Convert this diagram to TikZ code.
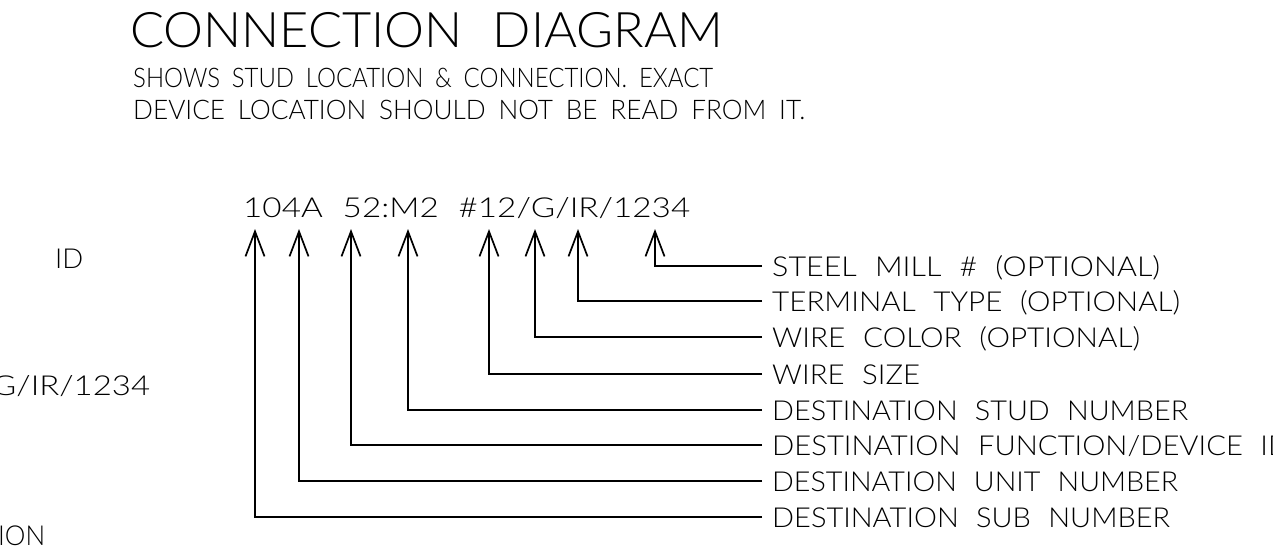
\documentclass[tikz,border=0pt]{standalone}
\usepackage{fontspec}
\setmainfont{Lato Light}[WordSpace=2.2]
\newfontfamily\subfont{Lato Light}[WordSpace=1.8]
\usetikzlibrary{arrows.meta}
\newcommand{\fitto}[2]{\sbox0{#2}\pgfmathsetmacro{\fitr}{#1/\the\wd0}\scalebox{\fitr}[1]{\usebox0}}
\tikzset{
  lab/.style={anchor=west, inner sep=0pt, text height=20pt, text depth=0pt, font=\fontsize{27.5}{30}\selectfont},
  txt/.style={anchor=base west, inner sep=0pt, font=\fontsize{27.5}{30}\selectfont},
  subt/.style={anchor=base west, inner sep=0pt, font=\subfont\fontsize{27}{30}\selectfont},
  ttl/.style={anchor=base west, inner sep=0pt, font=\fontsize{49}{52}\selectfont},
  arr/.style={line width=1.7pt, -{Straight Barb[length=25pt,width=19pt,line width=1.7pt]}},
}
\begin{document}
\begin{tikzpicture}[x=1pt,y=-1pt]
\useasboundingbox (0,0) rectangle (1273,550);
\clip (0,0) rectangle (1273,550);
% title
\node[ttl] (title) at (130,47) {\fitto{593}{CONNECTION DIAGRAM}};
\node[subt] (sub1) at (133,87) {\fitto{580}{SHOWS STUD LOCATION \& CONNECTION. EXACT}};
\node[subt] (sub2) at (133,119) {\fitto{672}{DEVICE LOCATION SHOULD NOT BE READ FROM IT.}};
% code string
\node[txt] (code) at (243,217) {\fitto{447}{104A 52:M2 \#12/G/IR/1234}};
% left clipped texts
\node[lab] (lid) at (55,258) {ID};
\node[txt] (lgir) at (-8,395) {\fitto{158}{G/IR/1234}};
\node[txt] (lion) at (-2,545) {\fitto{47}{ION}};
% tips
\coordinate (t1) at (255,229);
\coordinate (t2) at (299,229);
\coordinate (t3) at (351,229);
\coordinate (t4) at (408,229);
\coordinate (t5) at (489,229);
\coordinate (t6) at (535,229);
\coordinate (t7) at (578,229);
\coordinate (t8) at (655,229);
% labels
\node[lab] (l8) at (772,266) {\fitto{388}{STEEL MILL \# (OPTIONAL)}};
\node[lab] (l7) at (772,301) {\fitto{408}{TERMINAL TYPE (OPTIONAL)}};
\node[lab] (l6) at (772,337) {\fitto{368}{WIRE COLOR (OPTIONAL)}};
\node[lab] (l5) at (772,374) {\fitto{148}{WIRE SIZE}};
\node[lab] (l4) at (772,410) {\fitto{416}{DESTINATION STUD NUMBER}};
\node[lab] (l3) at (772,445) {\fitto{518}{DESTINATION FUNCTION/DEVICE ID}};
\node[lab] (l2) at (772,481) {\fitto{406}{DESTINATION UNIT NUMBER}};
\node[lab] (l1) at (772,517) {\fitto{398}{DESTINATION SUB NUMBER}};
% connectors
\foreach \i in {1,...,8}{
  \draw[arr] ([xshift=-10pt]l\i.west) -| (t\i);
}
\end{tikzpicture}
\end{document}
